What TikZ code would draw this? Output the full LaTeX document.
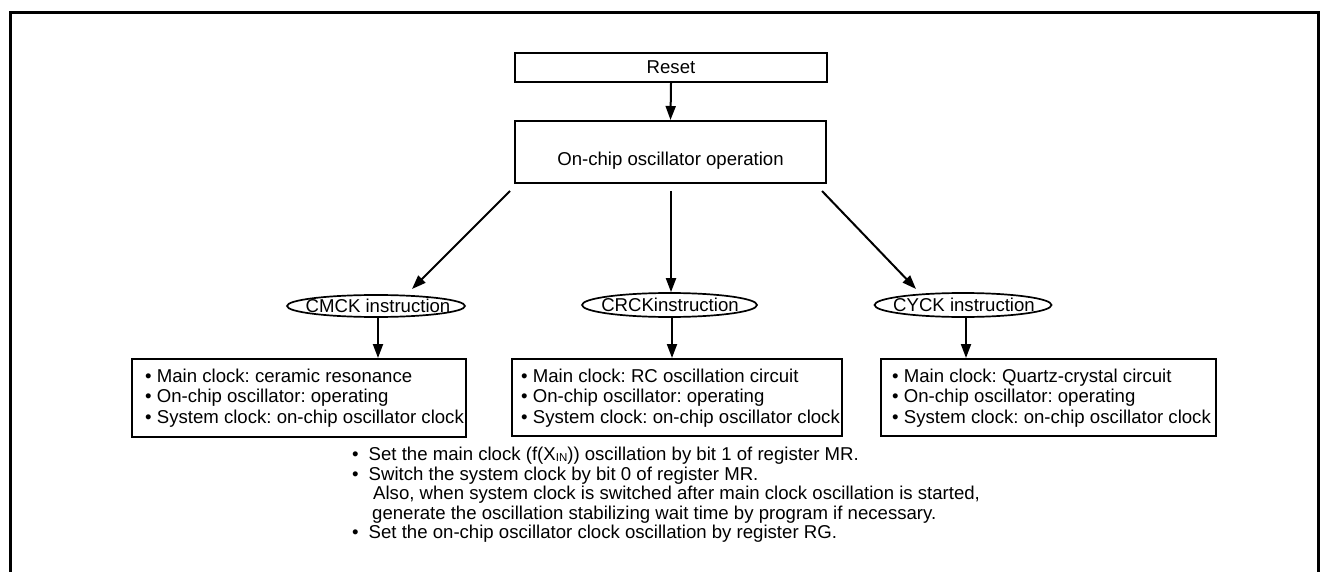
\documentclass[tikz,border=0pt]{standalone}
\usepackage{fontspec}
\setmainfont{Liberation Sans}
\usetikzlibrary{arrows.meta,shapes.geometric}
\newcommand{\inx}{X\raisebox{-0.5pt}{\fontsize{11.5}{11.5}\selectfont IN}}
\begin{document}
\frenchspacing
\begin{tikzpicture}[x=1pt,y=-1pt,
  every node/.style={font=\frenchspacing\fontsize{18.6}{20.5}\selectfont, inner sep=0pt},
  box/.style={draw, line width=2pt, rectangle},
  instr/.style={draw, ellipse, line width=1.7pt},
  arr/.style={line width=2pt, -{Triangle[length=14pt,width=10pt]}},
  frame/.style={line width=3pt},
  notes/.style={font=\frenchspacing\fontsize{18.6}{19.5}\selectfont, align=left, anchor=west}]
\useasboundingbox (0,0) rectangle (1327,572);
\draw[frame] (10,572) -- (10,13) -- (1318,13) -- (1318,572);

% top boxes
\node[box, minimum width=312pt, minimum height=29pt] (reset) at (671,67.5) {Reset};
\node[box, minimum width=311pt, minimum height=62pt] (osc) at (670.5,152) {};
\node (osct) at (670.5,161) {On-chip oscillator operation};

% instruction ellipses
\node[instr, minimum width=178pt, minimum height=22pt] (cmck) at (376,306) {};
\node (cmckt) at (378,305.5) {CMCK instruction};
\node[instr, minimum width=175pt, minimum height=24pt] (crck) at (669.5,305) {};
\node (crckt) at (670,305) {CRCKinstruction};
\node[instr, minimum width=177pt, minimum height=24pt] (cyck) at (963,305) {};
\node (cyckt) at (964,305) {CYCK instruction};

% result boxes
\node[box, minimum width=334pt, minimum height=78pt] (box1) at (299,398) {};
\node[box, minimum width=330pt, minimum height=77pt] (box2) at (677,397.5) {};
\node[box, minimum width=335pt, minimum height=77pt] (box3) at (1048.5,397.5) {};
\node[align=left, anchor=west] (box1t) at (145,398) {• Main clock: ceramic resonance\\• On-chip oscillator: operating\\• System clock: on-chip oscillator clock};
\node[align=left, anchor=west] (box2t) at (521,398) {• Main clock: RC oscillation circuit\\• On-chip oscillator: operating\\• System clock: on-chip oscillator clock};
\node[align=left, anchor=west] (box3t) at (892,398) {• Main clock: Quartz-crystal circuit\\• On-chip oscillator: operating\\• System clock: on-chip oscillator clock};

% notes
\node[notes] (notes) at (352,495) {•\hspace{10pt}Set the main clock (f(\inx)) oscillation by bit 1 of register MR.\\
•\hspace{10pt}Switch the system clock by bit 0 of register MR.\\
\hspace{21pt}Also, when system clock is switched after main clock oscillation is started,\\
\hspace{20pt}generate the oscillation stabilizing wait time by program if necessary.\\
•\hspace{10pt}Set the on-chip oscillator clock oscillation by register RG.};

% connectors
\coordinate (lstart) at (510,191);
\coordinate (lend) at (412,289);
\coordinate (mstart) at (671,191);
\coordinate (rstart) at (822,191);
\coordinate (rend) at (916,289);
\draw[arr] (reset.south) -- (osc.north);
\draw[arr] (lstart) -- (lend);
\draw[arr] (mstart) -- (mstart |- crck.north);
\draw[arr] (rstart) -- (rend);
\draw[arr] (cmck.south -| 378,0) -- (box1.north -| 378,0);
\draw[arr] (crck.south -| 672,0) -- (box2.north -| 672,0);
\draw[arr] (cyck.south -| 966,0) -- (box3.north -| 966,0);
\end{tikzpicture}
\end{document}
